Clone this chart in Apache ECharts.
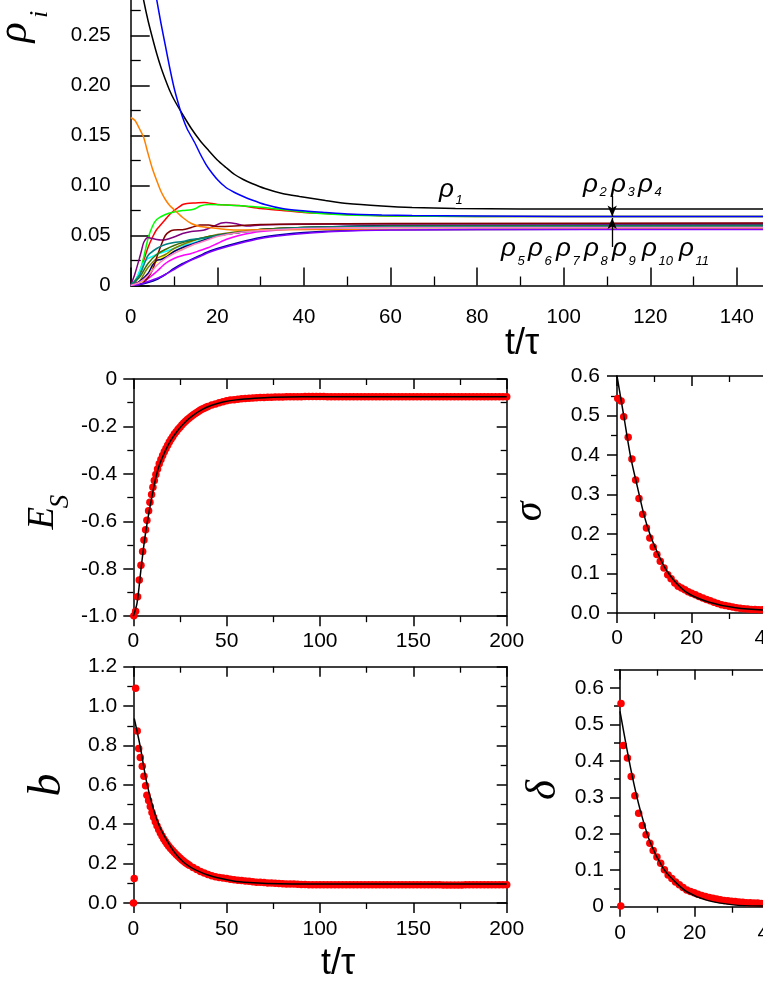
<!DOCTYPE html>
<html><head><meta charset="utf-8">
<script src="https://cdn.jsdelivr.net/npm/echarts@6/dist/echarts.min.js"></script>
<style>html,body{margin:0;padding:0;background:#fff}#c{width:763px;height:987px}</style>
</head><body><div id="c"></div>
<script>
// ---------------- top panel: rho_i(t) ----------------
const rhoBlack = [[0,0.36],[1,0.335],[2,0.308],[3,0.285],[4,0.265],[5,0.248],[6,0.232],[7,0.218],[8,0.206],[9,0.195],[10,0.186],[12,0.171],[14,0.157],[16,0.145],[18,0.135],[20,0.1255],[22,0.118],[24,0.111],[26,0.106],[28,0.102],[31,0.097],[35,0.092],[39,0.089],[45,0.085],[50,0.082],[58,0.0795],[65,0.078],[75,0.077],[90,0.0765],[160,0.0765]];
const rhoRed = [[0,0],[1,0.003],[2,0.012],[3,0.025],[4,0.038],[5,0.048],[6,0.056],[7,0.061],[8,0.066],[9,0.071],[10,0.075],[11,0.078],[12,0.081],[13,0.082],[15,0.0825],[17,0.083],[20,0.081],[25,0.08],[30,0.077],[35,0.075],[40,0.073],[50,0.071],[60,0.0695],[80,0.069],[160,0.069]];
const rhoGreen = [[0,0],[1,0.005],[2,0.013],[3,0.028],[4,0.047],[5,0.059],[6,0.066],[8,0.071],[10,0.0735],[12,0.075],[14,0.0758],[15,0.077],[16,0.0795],[18,0.081],[22,0.0805],[28,0.079],[35,0.076],[42,0.0725],[50,0.0705],[60,0.0695],[80,0.069],[160,0.069]];
const rhoBlue = [[0,0.45],[1,0.42],[2,0.39],[3,0.36],[4,0.335],[5,0.31],[6,0.286],[7,0.262],[8,0.24],[9,0.218],[10,0.198],[11,0.182],[12,0.168],[13,0.157],[14,0.149],[15,0.141],[16,0.132],[17,0.124],[18,0.117],[20,0.106],[22,0.098],[24,0.093],[26,0.089],[28,0.0855],[31,0.081],[35,0.077],[39,0.075],[45,0.073],[50,0.0715],[58,0.0705],[65,0.07],[80,0.0695],[100,0.069],[160,0.069]];
const rhoCyan = [[0,0],[1,0.004],[2,0.014],[3,0.023],[4,0.027],[5,0.029],[6,0.031],[8,0.034],[10,0.037],[12,0.04],[14,0.042],[16,0.045],[18,0.048],[20,0.05],[25,0.053],[30,0.055],[40,0.057],[60,0.058],[160,0.0585]];
const rhoMagenta = [[0,0],[2,0.003],[4,0.007],[6,0.014],[8,0.022],[10,0.027],[12,0.03],[14,0.032],[16,0.035],[18,0.038],[20,0.042],[22,0.046],[25,0.05],[30,0.054],[40,0.057],[60,0.0585],[160,0.059]];
const rhoYellow = [[0,0],[2,0.002],[3,0.006],[4,0.012],[5,0.018],[6,0.024],[8,0.03],[10,0.034],[12,0.037],[14,0.04],[16,0.044],[18,0.047],[20,0.05],[25,0.054],[30,0.056],[40,0.058],[60,0.059],[160,0.0595]];
const rhoDarkYellow = [[0,0],[2,0.004],[3,0.011],[4,0.018],[6,0.027],[8,0.031],[10,0.037],[12,0.041],[14,0.044],[16,0.047],[18,0.049],[20,0.051],[25,0.054],[30,0.056],[40,0.058],[60,0.059],[160,0.06]];
const rhoNavy = [[0,0],[2,0.004],[4,0.012],[5,0.02],[6,0.025],[7,0.026],[8,0.028],[10,0.034],[12,0.038],[14,0.041],[16,0.044],[18,0.047],[20,0.05],[25,0.053],[30,0.056],[40,0.058],[60,0.06],[160,0.0605]];
const rhoPurple = [[0,0],[1,0.012],[2,0.027],[2.5,0.035],[3,0.043],[4,0.048],[5,0.047],[6,0.046],[7,0.0455],[8,0.0458],[10,0.0485],[12,0.052],[14,0.054],[17,0.0555],[19,0.059],[21,0.0625],[22,0.063],[24,0.062],[27,0.0595],[30,0.0605],[40,0.0612],[60,0.0615],[160,0.062]];
const rhoWine = [[0,0],[2,0.001],[3,0.003],[4,0.008],[5,0.015],[6,0.028],[7,0.04],[8,0.05],[9,0.054],[10,0.0555],[12,0.0558],[14,0.058],[16,0.0605],[18,0.0605],[20,0.059],[24,0.0595],[30,0.061],[40,0.0615],[60,0.062],[160,0.0625]];
const rhoOlive = [[0,0],[2,0.008],[3,0.015],[4,0.022],[6,0.031],[8,0.036],[10,0.04],[12,0.043],[14,0.045],[16,0.047],[18,0.049],[20,0.05],[25,0.053],[30,0.056],[40,0.058],[60,0.0595],[160,0.06]];
const rhoDarkCyan = [[0,0],[2,0.01],[3,0.02],[4,0.03],[6,0.037],[8,0.041],[10,0.043],[12,0.044],[14,0.046],[16,0.047],[18,0.048],[20,0.05],[25,0.053],[30,0.055],[40,0.058],[60,0.059],[160,0.0595]];
const rhoRoyal = [[0,0],[2,0.001],[4,0.003],[6,0.006],[8,0.011],[10,0.017],[12,0.022],[14,0.026],[16,0.03],[18,0.034],[20,0.037],[25,0.043],[30,0.048],[35,0.051],[40,0.053],[50,0.055],[60,0.0558],[160,0.0565]];
const rhoOrange = [[0,0.168],[1,0.165],[2,0.157],[3,0.148],[4,0.132],[5,0.117],[6,0.105],[7,0.094],[8,0.086],[9,0.08],[10,0.076],[12,0.068],[14,0.062],[16,0.059],[18,0.058],[22,0.056],[26,0.0555],[35,0.0558],[50,0.056],[160,0.0565]];
const rhoViolet = [[0,0],[2,0.001],[4,0.004],[6,0.007],[8,0.011],[10,0.016],[12,0.021],[14,0.0255],[16,0.029],[18,0.033],[20,0.036],[25,0.042],[30,0.047],[35,0.05],[40,0.052],[47,0.054],[60,0.0555],[80,0.056],[160,0.056]];
const rhoPink = [[0,0],[2,0.003],[4,0.01],[6,0.02],[8,0.027],[10,0.032],[12,0.036],[14,0.04],[16,0.043],[18,0.046],[20,0.049],[25,0.053],[30,0.055],[40,0.057],[60,0.058],[160,0.058]];

const rhoCurves = [
  ['#000000', rhoBlack], ['#ff0000', rhoRed], ['#00ff00', rhoGreen], ['#0000ff', rhoBlue],
  ['#00ffff', rhoCyan], ['#ff00ff', rhoMagenta], ['#ffff00', rhoYellow], ['#808000', rhoDarkYellow],
  ['#000080', rhoNavy], ['#800080', rhoPurple], ['#800000', rhoWine], ['#3a6e00', rhoOlive],
  ['#008080', rhoDarkCyan], ['#0000a0', rhoRoyal], ['#ff8000', rhoOrange], ['#8000ff', rhoViolet],
  ['#ff80c0', rhoPink]
];
// arrows pointing at the rho2-4 plateau
const arrowDown = [[111.2, 0.0895], [111.2, 0.069]];
const arrowUp = [[111.2, 0.0385], [111.2, 0.0675]];

// ---------------- E_s ----------------
const esDots = [[0.3,-0.998],[1.25,-0.979],[2.3,-0.918],[3.2,-0.847],[4.1,-0.785],[5,-0.727],[5.7,-0.679],[6.6,-0.636],[7.3,-0.595],[8.2,-0.555],[8.9,-0.52],[9.8,-0.487],[10.5,-0.456],[11.25,-0.428],[12.1,-0.403],[13,-0.379],[13.9,-0.357],[14.8,-0.339],[15.7,-0.322],[16.6,-0.307],[17.5,-0.293],[18.4,-0.279],[19.3,-0.266],[20.2,-0.254],[21.1,-0.243],[22,-0.232],[23,-0.222],[24,-0.212],[25,-0.203],[26,-0.194],[27,-0.186],[28,-0.178],[29,-0.171],[30,-0.164],[31,-0.158],[32,-0.152],[33,-0.146],[34,-0.141],[35,-0.136],[36,-0.131],[37,-0.127],[38,-0.123],[39,-0.119],[40,-0.116],[42,-0.11],[44,-0.105],[46,-0.1],[48,-0.096],[50,-0.092],[52,-0.089],[54,-0.087],[56,-0.085],[58,-0.083],[60,-0.082],[62,-0.081],[64,-0.08],[66,-0.079],[68,-0.078],[70,-0.078],[72,-0.077],[74,-0.077],[76,-0.076],[78,-0.076],[80,-0.076],[82,-0.075],[84,-0.075],[86,-0.075],[88,-0.075],[90,-0.075],[92,-0.074],[94,-0.074],[96,-0.074],[98,-0.074],[100,-0.074],[102,-0.074],[104,-0.075],[106,-0.075],[108,-0.075],[110,-0.075],[112,-0.075],[114,-0.075],[116,-0.075],[118,-0.075],[120,-0.075],[122,-0.075],[124,-0.075],[126,-0.075],[128,-0.075],[130,-0.075],[132,-0.075],[134,-0.075],[136,-0.075],[138,-0.075],[140,-0.075],[142,-0.075],[144,-0.075],[146,-0.075],[148,-0.075],[150,-0.075],[152,-0.075],[154,-0.075],[156,-0.075],[158,-0.075],[160,-0.075],[162,-0.075],[164,-0.075],[166,-0.075],[168,-0.075],[170,-0.075],[172,-0.075],[174,-0.075],[176,-0.075],[178,-0.075],[180,-0.075],[182,-0.075],[184,-0.075],[186,-0.075],[188,-0.075],[190,-0.075],[192,-0.075],[194,-0.075],[196,-0.075],[198,-0.075],[200,-0.075]];
const esFit = [[0,-1.0],[2,-0.945],[4,-0.81],[6,-0.68],[8,-0.58],[10,-0.495],[12,-0.418],[14,-0.362],[17,-0.305],[20,-0.26],[24,-0.215],[28,-0.18],[32,-0.153],[37,-0.128],[42,-0.111],[48,-0.097],[55,-0.088],[65,-0.081],[75,-0.077],[90,-0.075],[200,-0.075]];

// ---------------- sigma ----------------
const sigmaDots = [[0.2,0.543],[1.1,0.537],[1.8,0.497],[3,0.445],[4,0.39],[5,0.337],[5.9,0.29],[6.9,0.25],[7.9,0.215],[8.8,0.19],[9.7,0.167],[10.7,0.148],[11.6,0.131],[12.6,0.114],[13.6,0.097],[14.5,0.087],[15.5,0.076],[16.4,0.068],[17.3,0.063],[18.2,0.059],[19.1,0.054],[20,0.05],[21,0.046],[22,0.042],[23,0.038],[24,0.034],[25,0.031],[26,0.027],[27,0.024],[28,0.021],[29,0.019],[30,0.017],[31,0.015],[32,0.013],[33,0.012],[34,0.011],[35,0.01],[36,0.009],[37,0.009],[38,0.008],[39,0.008],[40,0.008],[41,0.007],[42,0.007]];
const sigmaFit = [[0,0.6],[1.8,0.5],[3.6,0.398],[5.5,0.318],[7.3,0.246],[9,0.195],[10.9,0.152],[13,0.112],[15.5,0.08],[19,0.05],[24.5,0.028],[31.8,0.013],[40,0.007],[60,0.003],[100,0.001]];

// ---------------- b ----------------
const bDots = [[0.1,0.0],[0.5,0.124],[1.25,1.09],[2.1,0.873],[2.9,0.785],[3.75,0.739],[4.8,0.695],[5.7,0.644],[6.6,0.595],[7.3,0.547],[8.2,0.52],[9.1,0.49],[10,0.46],[10.9,0.435],[11.8,0.413],[12.7,0.392],[13.6,0.373],[14.5,0.356],[15.4,0.34],[16.3,0.325],[17.2,0.312],[18.1,0.299],[19,0.288],[20,0.277],[21,0.266],[22,0.256],[23,0.246],[24,0.237],[25,0.228],[26,0.22],[27,0.212],[28,0.205],[29,0.198],[30,0.192],[32,0.18],[34,0.17],[36,0.16],[38,0.152],[40,0.145],[42,0.139],[44,0.133],[46,0.13],[48,0.127],[50,0.124],[52,0.121],[54,0.118],[56,0.116],[58,0.114],[60,0.112],[62,0.11],[64,0.108],[66,0.106],[68,0.105],[70,0.104],[72,0.102],[74,0.101],[76,0.1],[78,0.099],[80,0.098],[82,0.097],[84,0.096],[86,0.096],[88,0.095],[90,0.094],[92,0.094],[94,0.093],[96,0.093],[98,0.093],[100,0.093],[102,0.093],[104,0.093],[106,0.093],[108,0.093],[110,0.093],[112,0.093],[114,0.093],[116,0.093],[118,0.093],[120,0.093],[122,0.093],[124,0.093],[126,0.093],[128,0.093],[130,0.093],[132,0.093],[134,0.093],[136,0.093],[138,0.093],[140,0.093],[142,0.093],[144,0.093],[146,0.093],[148,0.093],[150,0.093],[152,0.093],[154,0.093],[156,0.093],[158,0.093],[160,0.093],[162,0.093],[164,0.093],[166,0.092],[168,0.091],[170,0.091],[172,0.091],[174,0.091],[176,0.092],[178,0.093],[180,0.093],[182,0.093],[184,0.093],[186,0.093],[188,0.093],[190,0.093],[192,0.093],[194,0.093],[196,0.093],[198,0.093],[200,0.093]];
const bFit = [[0.5,0.937],[3.6,0.8],[7.1,0.615],[10.7,0.48],[14,0.39],[17.9,0.319],[22,0.258],[26.8,0.208],[31,0.18],[35.7,0.158],[40,0.142],[44.6,0.129],[53.6,0.112],[62,0.104],[71.4,0.099],[85,0.097],[100,0.097],[200,0.097]];

// ---------------- delta ----------------
const deltaDots = [[0.2,0.002],[0.27,0.557],[0.9,0.442],[2,0.408],[3,0.357],[4,0.304],[5,0.256],[6,0.223],[7,0.197],[8,0.174],[8.9,0.154],[9.9,0.136],[10.9,0.119],[11.9,0.101],[12.9,0.087],[13.9,0.077],[14.9,0.068],[15.9,0.06],[16.9,0.053],[17.9,0.046],[18.9,0.042],[19.9,0.038],[20.9,0.034],[21.9,0.031],[22.9,0.028],[23.9,0.025],[24.9,0.023],[25.9,0.021],[26.9,0.019],[27.9,0.017],[28.9,0.016],[29.9,0.015],[30.9,0.014],[31.9,0.013],[32.9,0.012],[33.9,0.011],[34.9,0.011],[35.9,0.01],[36.9,0.01],[37.9,0.009],[38.9,0.009],[39.9,0.009],[41,0.008],[42,0.008]];
const deltaFit = [[0,0.536],[1.8,0.435],[3.6,0.343],[5.4,0.266],[8,0.179],[11.6,0.105],[14.3,0.073],[17.9,0.041],[23.2,0.018],[30.4,0.005],[38.3,0.002],[60,0.001],[100,0.0005]];

// tick label values
const deltaTicks = [0, 0.1, 0.2, 0.3, 0.4, 0.5, 0.6];

// ---------------- helpers ----------------
const FONT = "'Liberation Sans', Arial, sans-serif";
const SERIF = "'Liberation Serif', 'Times New Roman', serif";
const AX = {color: '#000', width: 1.5};

function valAxis(gi, pos, min, max, interval, o) {
  o = o || {};
  const a = {
    type: 'value', gridIndex: gi, position: pos, min: min, max: max, interval: interval,
    axisLine: {show: o.line !== false, onZero: false, lineStyle: AX},
    axisTick: {show: true, inside: !!o.inside, length: o.maj || 10, lineStyle: AX},
    minorTick: {show: o.minor !== false, splitNumber: 2, length: o.mnr || 6, lineStyle: {color: '#000', width: 1.3}},
    axisLabel: {show: !!o.fmt, margin: o.margin || 16, color: '#000', fontSize: o.fs || 21, fontFamily: FONT,
                formatter: o.fmt, hideOverlap: false, showMinLabel: true, showMaxLabel: true},
    splitLine: {show: false}, minorSplitLine: {show: false}, splitArea: {show: false}
  };
  if (o.ticks) { a.axisTick.customValues = o.ticks; a.axisLabel.customValues = o.ticks; }
  return a;
}
const fmtInt = v => String(Math.round(v));
const fmtTop = v => Math.abs(v) < 1e-9 ? '0' : v.toFixed(2);
const fmt1 = v => v.toFixed(1);
const fmtEs = v => Math.abs(v) < 1e-9 ? '0' : v.toFixed(1);
const fmtDelta = v => Math.abs(v * 10 - Math.round(v * 10)) > 1e-6 ? '' : (Math.abs(v) < 1e-9 ? '0' : v.toFixed(1));

function gtext(x, y, text, font, rot) {
  return {type: 'text', x: x, y: y, rotation: rot || 0, silent: true,
    style: {text: text, font: font, fill: '#000', align: 'center', verticalAlign: 'middle',
            textAlign: 'center', textVerticalAlign: 'middle'}};
}
function ltext(x, y, text, font) {
  return {type: 'text', x: x, y: y, silent: true,
    style: {text: text, font: font, fill: '#000', align: 'left', verticalAlign: 'middle',
            textAlign: 'left', textVerticalAlign: 'middle'}};
}
const RF = 26, SF = 13;
function rhoLab(x, base, sub, subBase) {
  return [ltext(x - 1, base - 0.32 * RF, 'ρ', 'italic ' + RF + 'px ' + FONT),
          ltext(x + 15.5, subBase - 0.32 * SF, sub, 'italic ' + SF + 'px ' + FONT)];
}
const ROT = Math.PI / 2;

// ---------------- grids ----------------
const grids = [
  {left: 130.7, top: -14.5, width: 692.8, height: 300},
  {left: 133.3, top: 379, width: 373.4, height: 237.2},
  {left: 617, top: 376, width: 373, height: 237},
  {left: 133.3, top: 666.7, width: 373.4, height: 236.3},
  {left: 620, top: 669.7, width: 373, height: 237}
].map(g => Object.assign({outerBoundsMode: 'none', containLabel: false, show: false}, g));

const xAxes = [
  valAxis(0, 'bottom', 0, 160, 20, {inside: true, maj: 18, mnr: 9, fmt: fmtInt, fs: 20.5, margin: 21}),
  valAxis(1, 'bottom', 0, 200, 50, {fmt: fmtInt, margin: 15}),
  valAxis(1, 'top', 0, 200, 50, {inside: true}),
  valAxis(2, 'bottom', 0, 100, 20, {fmt: fmtInt, margin: 15}),
  valAxis(2, 'top', 0, 100, 20, {inside: true}),
  valAxis(3, 'bottom', 0, 200, 50, {fmt: fmtInt, margin: 16}),
  valAxis(3, 'top', 0, 200, 50, {inside: true}),
  valAxis(4, 'bottom', 0, 100, 20, {fmt: fmtInt, margin: 16}),
  valAxis(4, 'top', 0, 100, 20, {inside: true})
];
const yAxes = [
  valAxis(0, 'left', 0, 0.3, 0.05, {inside: true, maj: 19, mnr: 10, fmt: fmtTop, fs: 20.5, margin: 20}),
  valAxis(1, 'left', -1, 0, 0.2, {fmt: fmtEs, margin: 16}),
  valAxis(1, 'right', -1, 0, 0.2, {inside: true}),
  valAxis(2, 'left', 0, 0.6, 0.1, {fmt: fmt1, margin: 17}),
  valAxis(2, 'right', 0, 0.6, 0.1, {inside: true}),
  valAxis(3, 'left', 0, 1.2, 0.2, {fmt: fmt1, margin: 16}),
  valAxis(3, 'right', 0, 1.2, 0.2, {inside: true}),
  valAxis(4, 'left', 0, 0.65, 0.1, {fmt: fmtDelta, margin: 16, minor: false, ticks: deltaTicks}),
  valAxis(4, 'right', 0, 0.65, 0.1, {inside: true, minor: false, ticks: deltaTicks}),
  valAxis(4, 'left', 0, 0.65, 0.05, {line: false, minor: false, maj: 6}),
  valAxis(4, 'right', 0, 0.65, 0.05, {line: false, minor: false, maj: 6, inside: true})
];

// ---------------- series ----------------
const series = rhoCurves.map(([color, data], i) => ({
  type: 'line', xAxisIndex: 0, yAxisIndex: 0, data: data, showSymbol: false, symbol: 'none',
  smooth: 0.25, silent: true, z: 2 + i * 0.01,
  lineStyle: {color: color, width: 1.5}, emphasis: {disabled: true}
}));
series[0].markLine = {
  silent: true, symbol: ['none', 'arrow'], symbolSize: [7, 11], label: {show: false},
  lineStyle: {color: '#000', width: 1.3, type: 'solid'}, emphasis: {disabled: true},
  data: [
    [{coord: arrowDown[0]}, {coord: arrowDown[1]}],
    [{coord: arrowUp[0]}, {coord: arrowUp[1]}]
  ]
};
function addPanel(xi, yi, dots, fit) {
  series.push({type: 'scatter', xAxisIndex: xi, yAxisIndex: yi, data: dots, symbol: 'circle', symbolSize: 7.5,
    itemStyle: {color: '#ff0000', opacity: 1}, silent: true, z: 2, emphasis: {disabled: true}});
  series.push({type: 'line', xAxisIndex: xi, yAxisIndex: yi, data: fit, showSymbol: false, symbol: 'none',
    smooth: 0.3, lineStyle: {color: '#000', width: 1.5}, silent: true, z: 3,
    emphasis: {disabled: true}});
}
addPanel(1, 1, esDots, esFit);
addPanel(3, 3, sigmaDots, sigmaFit);
addPanel(5, 5, bDots, bFit);
addPanel(7, 7, deltaDots, deltaFit);

// ---------------- text ----------------
const graphic = [
  gtext(15, 32.5, 'ρ', 'italic 42px ' + SERIF, ROT),
  gtext(40, 14.5, 'i', 'italic 26px ' + SERIF, ROT),
  gtext(522, 344, 't/τ', '36px ' + FONT),
  gtext(338, 964, 't/τ', '36px ' + FONT),
  gtext(43.3, 518.3, 'E', 'italic 37px ' + SERIF, ROT),
  gtext(61, 501.5, 'S', 'italic 27px ' + SERIF, ROT),
  gtext(530.5, 511.5, 'σ', 'italic 40px ' + SERIF, ROT),
  gtext(47.7, 785, 'b', 'italic 46px ' + SERIF, ROT),
  gtext(544, 790, 'δ', 'italic 43px ' + SERIF, ROT)
].concat(
  rhoLab(440, 198.2, '1', 205),
  rhoLab(584, 193.5, '2', 196.7), rhoLab(612, 193.5, '3', 196.7), rhoLab(639, 193.5, '4', 196.7),
  rhoLab(502, 256.9, '5', 266), rhoLab(529, 256.9, '6', 266), rhoLab(557, 256.9, '7', 266),
  rhoLab(585, 256.9, '8', 266), rhoLab(613, 256.9, '9', 266), rhoLab(643, 256.9, '10', 266),
  rhoLab(680, 256.9, '11', 266)
);

const chart = echarts.init(document.getElementById('c'), null, {renderer: 'canvas'});
chart.setOption({
  animation: false, backgroundColor: '#fff',
  grid: grids, xAxis: xAxes, yAxis: yAxes, series: series, graphic: graphic
});
</script></body></html>
